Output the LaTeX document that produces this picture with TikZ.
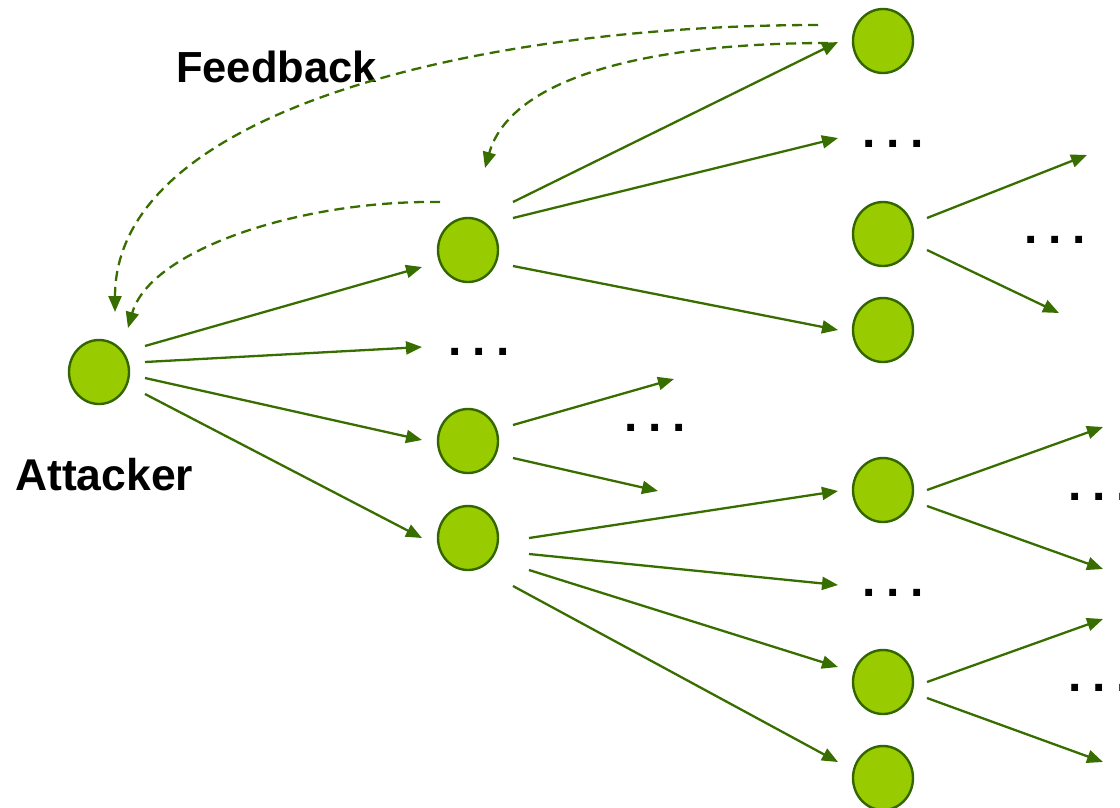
\documentclass[tikz,border=0pt]{standalone}
\usepackage{fontspec}
\setmainfont{Liberation Sans}
\usetikzlibrary{shapes.geometric,arrows.meta,calc}
\definecolor{nodefill}{HTML}{99CC00}
\definecolor{nodeline}{HTML}{336600}
\definecolor{edge}{HTML}{386E00}
\newcommand{\tdots}{.\hspace{10.7pt}.\hspace{10.7pt}.}
\tikzset{
  host/.style={ellipse, draw=nodeline, fill=nodefill, line width=2.4pt, minimum width=60pt, minimum height=64pt, inner sep=0pt},
  arr/.style={draw=edge, line width=2.3pt, -{Triangle[length=16pt,width=13pt]}},
  fb/.style={draw=edge, line width=2.3pt, dash pattern=on 10pt off 6pt, -{Triangle[length=16pt,width=13pt]}},
  dotsnode/.style={inner sep=0pt, font=\bfseries\fontsize{48}{52}\selectfont},
  lbl/.style={inner sep=0pt, anchor=base west, font=\bfseries\fontsize{43.5}{50}\selectfont}
}
\begin{document}
\begin{tikzpicture}[x=1pt,y=1pt]
\useasboundingbox (0,0) rectangle (1120,-807);
% hosts
\node[host] (A)  at (99,-372) {};
\node[host] (B1) at (468,-250) {};
\node[host] (B2) at (468,-441) {};
\node[host] (B3) at (468,-538) {};
\node[host] (C1) at (883,-41) {};
\node[host] (C2) at (883,-234) {};
\node[host] (C3) at (883,-330) {};
\node[host] (C4) at (883,-490) {};
\node[host] (C5) at (883,-682) {};
\node[host] (C6) at (883,-778) {};
% dots
\node[dotsnode] (d1) at (479,-352) {\tdots};
\node[dotsnode] (d2) at (655,-428) {\tdots};
\node[dotsnode] (d3) at (893,-144) {\tdots};
\node[dotsnode] (d4) at (1055,-240) {\tdots};
\node[dotsnode] (d5) at (893,-593) {\tdots};
\node[dotsnode] (d6) at (1099,-497) {\tdots};
\node[dotsnode] (d7) at (1099,-688) {\tdots};
% labels
\node[lbl] (fbl) at (176,-82) {Feedback};
\node[lbl, font=\bfseries\fontsize{44.5}{50}\selectfont] (atl) at (15,-490) {Attacker};
% free ends
\coordinate (e1) at (674,-379);
\coordinate (e2) at (658,-491);
\coordinate (e3) at (1087,-155);
\coordinate (e4) at (1059,-313);
\coordinate (e5) at (1103,-427);
\coordinate (e6) at (1103,-569);
\coordinate (e7) at (1103,-619);
\coordinate (e8) at (1103,-762);
% edges from attacker
\draw[arr] ($(A)+(46,26)$) -- ($(B1)+(-46,-17)$);
\draw[arr] ($(A)+(46,10)$) -- ($(d1)+(-57,5)$);
\draw[arr] ($(A)+(46,-6)$) -- ($(B2)+(-46,1)$);
\draw[arr] ($(A)+(46,-22)$) -- ($(B3)+(-46,0)$);
% edges from B1
\draw[arr] ($(B1)+(45,48)$) -- ($(C1)+(-45,-1)$);
\draw[arr] ($(B1)+(45,32)$) -- ($(d3)+(-55,6)$);
\draw[arr] ($(B1)+(45,-16)$) -- ($(C3)+(-45,0)$);
% edges from B2
\draw[arr] ($(B2)+(45,16)$) -- (e1);
\draw[arr] ($(B2)+(45,-17)$) -- (e2);
% edges from B3
\draw[arr] ($(B3)+(61,0)$) -- ($(C4)+(-45,-1)$);
\draw[arr] ($(B3)+(61,-16)$) -- ($(d5)+(-55,8)$);
\draw[arr] ($(B3)+(61,-32)$) -- ($(C5)+(-45,15)$);
\draw[arr] ($(B3)+(45,-48)$) -- ($(C6)+(-45,16)$);
% edges from C2, C4, C5
\draw[arr] ($(C2)+(44,16)$) -- (e3);
\draw[arr] ($(C2)+(44,-16)$) -- (e4);
\draw[arr] ($(C4)+(44,0)$) -- (e5);
\draw[arr] ($(C4)+(44,-16)$) -- (e6);
\draw[arr] ($(C5)+(44,0)$) -- (e7);
\draw[arr] ($(C5)+(44,-16)$) -- (e8);
% feedback
\draw[fb] ($(C1)+(-65,16)$) .. controls (480,-25) and (115,-110) .. ($(A)+(16,60)$);
\draw[fb] ($(C1)+(-55,-2)$) .. controls (640,-43) and (510,-80) .. ($(B1)+(17,82)$);
\draw[fb] ($(B1)+(-28,48)$) .. controls (300,-200) and (150,-250) .. ($(A)+(29,44)$);
\end{tikzpicture}
\end{document}
